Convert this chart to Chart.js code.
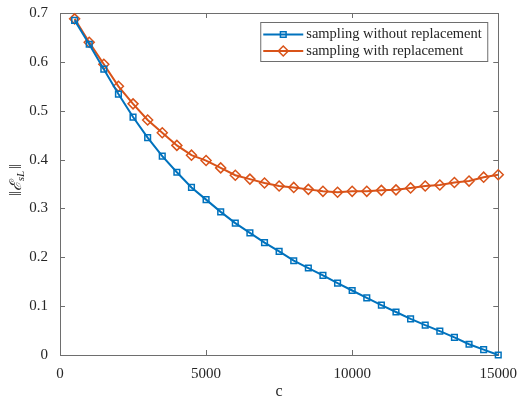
<!DOCTYPE html>
<html>
<head>
<meta charset="utf-8">
<script src="https://cdn.jsdelivr.net/npm/chart.js@4.4.1/dist/chart.umd.min.js"></script>
<style>
  html, body { margin: 0; padding: 0; background: #fff; }
  #contenedor { width: 519px; height: 401px; }
</style>
</head>
<body>
<div id="contenedor"><canvas id="grafico"></canvas></div>
<script>
// valores de c (eje x)
const valoresC = [500, 1000, 1500, 2000, 2500, 3000, 3500, 4000, 4500, 5000,
    5500, 6000, 6500, 7000, 7500, 8000, 8500, 9000, 9500, 10000,
    10500, 11000, 11500, 12000, 12500, 13000, 13500, 14000, 14500, 15000];

// sampling without replacement
const sinReemplazo = [0.685, 0.636, 0.585, 0.534, 0.487, 0.445, 0.407, 0.374, 0.343, 0.318,
    0.293, 0.270, 0.250, 0.230, 0.212, 0.193, 0.178, 0.163, 0.147, 0.132,
    0.117, 0.102, 0.088, 0.074, 0.061, 0.049, 0.036, 0.022, 0.011, 0.0];

// sampling with replacement
const conReemplazo = [0.688, 0.640, 0.595, 0.550, 0.514, 0.481, 0.455, 0.429, 0.409, 0.398,
    0.383, 0.368, 0.360, 0.352, 0.346, 0.343, 0.339, 0.335, 0.333, 0.335,
    0.335, 0.337, 0.338, 0.342, 0.346, 0.348, 0.353, 0.356, 0.364, 0.369];

const nombresSeries = ["sampling without replacement", "sampling with replacement"];
const ticksX = [0, 5000, 10000, 15000];
const ticksY = [0, 0.1, 0.2, 0.3, 0.4, 0.5, 0.6, 0.7];

const AZUL = "#0072BD";
const NARANJA = "#D95319";
const FUENTE = "'Liberation Serif', 'Times New Roman', serif";
const COLOR_TEXTO = "#262626";
const COLOR_EJE = "#6e6e6e";

function aPuntos(ys) {
    return valoresC.map((c, i) => ({ x: c, y: ys[i] }));
}

// caja y marcas hacia dentro estilo MATLAB
const cajaEjes = {
    id: "cajaEjes",
    beforeDatasetsDraw(chart) {
        const ctx = chart.ctx;
        const a = chart.chartArea;
        const x = chart.scales.x;
        const y = chart.scales.y;
        ctx.save();
        ctx.strokeStyle = COLOR_EJE;
        ctx.lineWidth = 1;
        ctx.strokeRect(Math.round(a.left) + 0.5, Math.round(a.top) + 0.5,
            Math.round(a.width), Math.round(a.height));
        ctx.beginPath();
        ticksX.forEach((v) => {
            const px = Math.round(x.getPixelForValue(v)) + 0.5;
            ctx.moveTo(px, a.bottom); ctx.lineTo(px, a.bottom - 5);
            ctx.moveTo(px, a.top); ctx.lineTo(px, a.top + 5);
        });
        ticksY.forEach((v) => {
            const py = Math.round(y.getPixelForValue(v)) + 0.5;
            ctx.moveTo(a.left, py); ctx.lineTo(a.left + 5, py);
            ctx.moveTo(a.right, py); ctx.lineTo(a.right - 5, py);
        });
        ctx.stroke();
        ctx.restore();
    },
    afterDraw(chart) {
        const ctx = chart.ctx;
        const a = chart.chartArea;
        ctx.save();

        // etiqueta eje y: ||E_sL||
        ctx.translate(17, a.top + a.height / 2 - 4);
        ctx.rotate(-Math.PI / 2);
        ctx.fillStyle = COLOR_TEXTO;
        ctx.textBaseline = "middle";
        const fNormal = "16px " + FUENTE;
        const fScript = "italic 16px " + FUENTE;
        const fSub = "italic 11px " + FUENTE;
        ctx.font = fNormal; const w1 = ctx.measureText("\u2016").width;
        ctx.font = fScript; const w2 = ctx.measureText("\u2130").width;
        ctx.font = fSub; const w3 = ctx.measureText("sL").width;
        const total = w1 * 2 + w2 + w3 + 2;
        let cx = -total / 2;
        ctx.font = fNormal; ctx.fillText("\u2016", cx, 0); cx += w1;
        ctx.font = fScript; ctx.fillText("\u2130", cx, 0); cx += w2;
        ctx.font = fSub; ctx.fillText("sL", cx, 4); cx += w3 + 2;
        ctx.font = fNormal; ctx.fillText("\u2016", cx, 0);
        ctx.restore();

        // leyenda
        ctx.save();
        const bx = a.right - 238, by = a.top + 9, bw = 227, bh = 39;
        ctx.fillStyle = "#fff";
        ctx.fillRect(bx, by, bw, bh);
        ctx.strokeStyle = COLOR_EJE;
        ctx.lineWidth = 1;
        ctx.strokeRect(bx + 0.5, by + 0.5, bw, bh);
        const entradas = [
            { color: AZUL, estilo: "rect", radio: 4 },
            { color: NARANJA, estilo: "rectRot", radio: 5 }
        ];
        ctx.textBaseline = "middle";
        entradas.forEach((e, i) => {
            const ly = by + 12.5 + i * 16.5;
            ctx.strokeStyle = e.color;
            ctx.lineWidth = 2;
            ctx.beginPath();
            ctx.moveTo(bx + 3, ly); ctx.lineTo(bx + 43, ly);
            ctx.stroke();
            ctx.lineWidth = 1.5;
            ctx.fillStyle = "rgba(0,0,0,0)";
            Chart.helpers.drawPoint(ctx, { pointStyle: e.estilo, radius: e.radio, rotation: 0, borderWidth: 1.5 }, bx + 23, ly);
            ctx.fillStyle = COLOR_TEXTO;
            ctx.font = "14.5px " + FUENTE;
            ctx.fillText(nombresSeries[i], bx + 46, ly);
        });
        ctx.restore();
    }
};

const ctx = document.getElementById("grafico").getContext("2d");
new Chart(ctx, {
    type: "line",
    data: {
        datasets: [{
            label: nombresSeries[0],
            data: aPuntos(sinReemplazo),
            borderColor: AZUL,
            borderWidth: 2,
            pointStyle: "rect",
            pointRadius: 4,
            pointBorderWidth: 1.5,
            pointBorderColor: AZUL,
            pointBackgroundColor: "transparent",
            clip: false
        }, {
            label: nombresSeries[1],
            data: aPuntos(conReemplazo),
            borderColor: NARANJA,
            borderWidth: 2,
            pointStyle: "rectRot",
            pointRadius: 5,
            pointBorderWidth: 1.5,
            pointBorderColor: NARANJA,
            pointBackgroundColor: "transparent",
            clip: false
        }]
    },
    options: {
        responsive: true,
        maintainAspectRatio: false,
        animation: false,
        layout: { padding: { top: 10, right: 19, left: 0, bottom: 0 } },
        plugins: {
            legend: { display: false },
            tooltip: { enabled: false }
        },
        scales: {
            x: {
                type: "linear",
                min: 0,
                max: 15000,
                afterFit: (s) => { s.height = 46; },
                afterBuildTicks: (s) => { s.ticks = ticksX.map((v) => ({ value: v })); },
                grid: { display: false },
                border: { display: false },
                ticks: {
                    color: COLOR_TEXTO,
                    font: { family: FUENTE, size: 15 },
                    padding: 2,
                    maxRotation: 0,
                    callback: (v) => String(v)
                },
                title: {
                    display: true,
                    text: "c",
                    color: COLOR_TEXTO,
                    font: { family: FUENTE, size: 16 },
                    padding: { top: 4, bottom: 0 }
                }
            },
            y: {
                min: 0,
                max: 0.7,
                afterFit: (s) => { s.width = 60; },
                afterBuildTicks: (s) => { s.ticks = ticksY.map((v) => ({ value: v })); },
                grid: { display: false },
                border: { display: false },
                ticks: {
                    color: COLOR_TEXTO,
                    font: { family: FUENTE, size: 15 },
                    padding: 4,
                    callback: (v) => (v === 0 ? "0" : v.toFixed(1))
                }
            }
        }
    },
    plugins: [cajaEjes]
});
</script>
</body>
</html>
